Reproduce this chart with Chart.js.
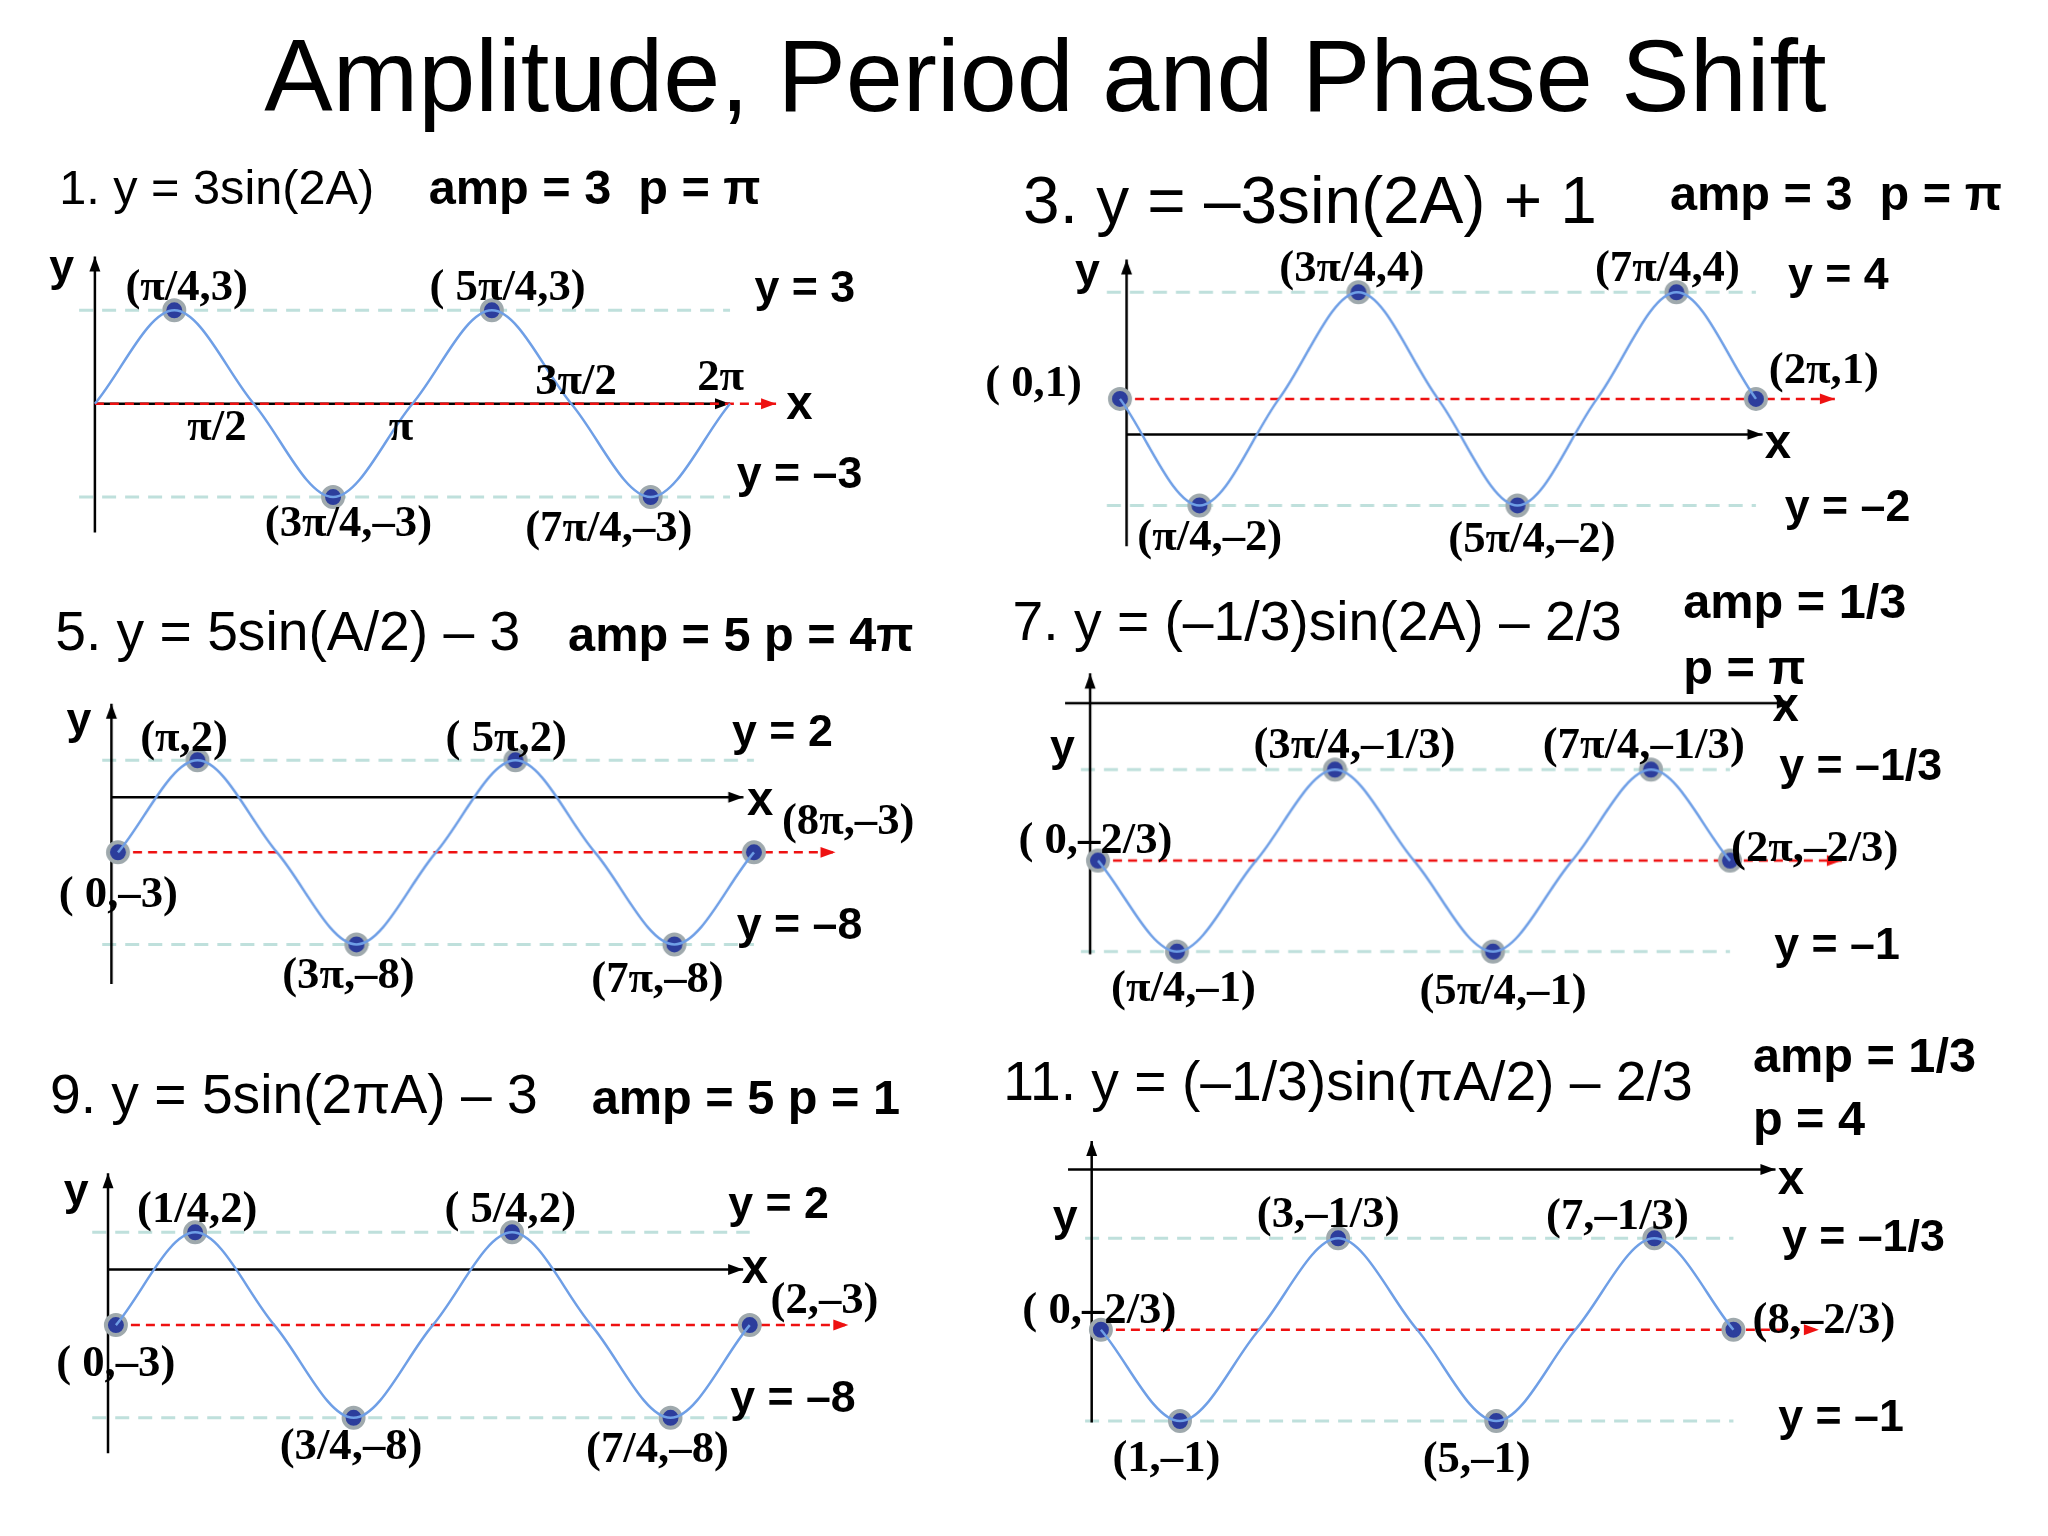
<!DOCTYPE html>
<html><head><meta charset="utf-8">
<script src="https://cdn.jsdelivr.net/npm/chart.js@4.4.1/dist/chart.umd.min.js"></script>
<style>
  html,body{margin:0;padding:0;background:#fff;}
  #page{position:relative;width:2048px;height:1536px;overflow:hidden;font-family:"Liberation Sans",Arial,sans-serif;}
  .box{position:absolute;}
  .t{position:absolute;white-space:nowrap;color:#000;transform:translate(-50%,-50%);}
  .l{position:absolute;white-space:nowrap;color:#000;transform:translate(0,-50%);}
  .pt{font-family:"Liberation Serif",serif;font-weight:bold;}
  .b{font-weight:bold;}
</style></head>
<body><div id="page"></div>
<script>
// displayed reference (~1560 wide) -> 2048 page
const S = 1.315;

// curve key points, one per quarter period
const quarterX = [0, 1, 2, 3, 4, 5, 6, 7, 8];
const p1Y = [0, 3, 0, -3, 0, 3, 0, -3, 0];
const p3Y = [1, -2, 1, 4, 1, -2, 1, 4, 1];
const p5Y = [-3, 2, -3, -8, -3, 2, -3, -8, -3];
const p7Y = [-2/3, -1, -2/3, -1/3, -2/3, -1, -2/3, -1/3, -2/3];
const p9Y = [-3, 2, -3, -8, -3, 2, -3, -8, -3];
const p11Y = [-2/3, -1, -2/3, -1/3, -2/3, -1, -2/3, -1/3, -2/3];
const p1Marks = [1, 3, 5, 7];
const fullMarks = [0, 1, 3, 5, 7, 8];

const panels = [
  {ys: p1Y, marks: p1Marks, max: 3, min: -3, mid: 0, xL: 72, xR: 555, yTop: 236, yBot: 378,
   yAx: [72, 195, 405], xAx: [72, 555, 0], redEnd: 590, tealL: 60},
  {ys: p3Y, marks: fullMarks, max: 4, min: -2, mid: 1, xL: 852, xR: 1335, yTop: 222, yBot: 384,
   yAx: [857, 197, 415], xAx: [857, 1340, 0], redEnd: 1395, tealL: 842},
  {ys: p5Y, marks: fullMarks, max: 2, min: -8, mid: -3, xL: 90, xR: 573, yTop: 578, yBot: 718,
   yAx: [85, 535, 748], xAx: [85, 565, 0], redEnd: 635, tealL: 78},
  {ys: p7Y, marks: fullMarks, max: -1/3, min: -1, mid: -2/3, xL: 835, xR: 1315, yTop: 585, yBot: 723,
   yAx: [829, 512, 725], xAx: [810, 1362, -0.09], redEnd: 1400, tealL: 822},
  {ys: p9Y, marks: fullMarks, max: 2, min: -8, mid: -3, xL: 88, xR: 570, yTop: 937, yBot: 1078,
   yAx: [82, 892, 1105], xAx: [82, 565, 0], redEnd: 645, tealL: 70},
  {ys: p11Y, marks: fullMarks, max: -1/3, min: -1, mid: -2/3, xL: 837, xR: 1318, yTop: 942, yBot: 1081,
   yAx: [830, 868, 1082], xAx: [812, 1350, -0.082], redEnd: 1383, tealL: 825}
];

// text: [x, y, text, class, size]  (centered unless class has 'l')
const texts = [
  [795, 58, 'Amplitude, Period and Phase Shift', 't', 78],
  [45, 142, '1. y = 3sin(2A)', 'l', 37], [326, 142, 'amp = 3&nbsp; p = π', 'l b', 37],
  [142, 217, '(π/4,3)', 't pt', 34], [386, 217, '( 5π/4,3)', 't pt', 34],
  [165, 323, 'π/2', 't pt', 34], [305, 323, 'π', 't pt', 34], [438, 288, '3π/2', 't pt', 34], [548, 285, '2π', 't pt', 34],
  [265, 396, '(3π/4,–3)', 't pt', 34], [463, 400, '(7π/4,–3)', 't pt', 34],
  [47, 202, 'y', 't b', 34], [608, 306, 'x', 't b', 36], [612, 218, 'y = 3', 't b', 34], [608, 360, 'y = –3', 't b', 34],

  [778, 152, '3. y = –3sin(2A) + 1', 'l', 50], [1270, 147, 'amp = 3&nbsp; p = π', 'l b', 37],
  [827, 205, 'y', 't b', 34], [1352, 335, 'x', 't b', 36],
  [1028, 202, '(3π/4,4)', 't pt', 34], [1268, 202, '(7π/4,4)', 't pt', 34], [1398, 208, 'y = 4', 't b', 34],
  [786, 290, '( 0,1)', 't pt', 34], [1387, 280, '(2π,1)', 't pt', 34],
  [920, 407, '(π/4,–2)', 't pt', 34], [1165, 408, '(5π/4,–2)', 't pt', 34], [1405, 385, 'y = –2', 't b', 34],

  [42, 480, '5. y = 5sin(A/2) – 3', 'l', 42], [432, 482, 'amp = 5 p = 4π', 'l b', 37],
  [60, 547, 'y', 't b', 34], [578, 607, 'x', 't b', 36],
  [140, 560, '(π,2)', 't pt', 34], [385, 560, '( 5π,2)', 't pt', 34], [595, 556, 'y = 2', 't b', 34],
  [645, 623, '(8π,–3)', 't pt', 34], [90, 678, '( 0,–3)', 't pt', 34],
  [265, 740, '(3π,–8)', 't pt', 34], [500, 743, '(7π,–8)', 't pt', 34], [608, 703, 'y = –8', 't b', 34],

  [770, 472, '7. y = (–1/3)sin(2A) – 2/3', 'l', 42], [1280, 457, 'amp = 1/3', 'l b', 37], [1280, 507, 'p = π', 'l b', 37],
  [808, 567, 'y', 't b', 34], [1358, 535, 'x', 't b', 36],
  [1030, 565, '(3π/4,–1/3)', 't pt', 34], [1250, 565, '(7π/4,–1/3)', 't pt', 34], [1415, 582, 'y = –1/3', 't b', 34],
  [833, 637, '( 0,–2/3)', 't pt', 34], [1380, 643, '(2π,–2/3)', 't pt', 34],
  [900, 750, '(π/4,–1)', 't pt', 34], [1143, 752, '(5π/4,–1)', 't pt', 34], [1397, 718, 'y = –1', 't b', 34],

  [38, 832, '9. y = 5sin(2πA) – 3', 'l', 42], [450, 834, 'amp = 5 p = 1', 'l b', 37],
  [58, 905, 'y', 't b', 34], [574, 963, 'x', 't b', 36],
  [150, 918, '(1/4,2)', 't pt', 34], [388, 918, '( 5/4,2)', 't pt', 34], [592, 915, 'y = 2', 't b', 34],
  [627, 987, '(2,–3)', 't pt', 34], [88, 1035, '( 0,–3)', 't pt', 34],
  [267, 1098, '(3/4,–8)', 't pt', 34], [500, 1100, '(7/4,–8)', 't pt', 34], [603, 1062, 'y = –8', 't b', 34],

  [763, 822, '11. y = (–1/3)sin(πA/2) – 2/3', 'l', 42], [1333, 802, 'amp = 1/3', 'l b', 37], [1333, 850, 'p = 4', 'l b', 37],
  [810, 925, 'y', 't b', 34], [1362, 895, 'x', 't b', 36],
  [1010, 922, '(3,–1/3)', 't pt', 34], [1230, 923, '(7,–1/3)', 't pt', 34], [1417, 940, 'y = –1/3', 't b', 34],
  [836, 995, '( 0,–2/3)', 't pt', 34], [1387, 1002, '(8,–2/3)', 't pt', 34],
  [887, 1107, '(1,–1)', 't pt', 34], [1123, 1108, '(5,–1)', 't pt', 34], [1400, 1077, 'y = –1', 't b', 34]
];

const page = document.getElementById('page');

function arrow(ctx, x1, y1, x2, y2, color, dash) {
  ctx.save();
  ctx.strokeStyle = color; ctx.fillStyle = color; ctx.lineWidth = 2.5;
  ctx.setLineDash(dash || []);
  ctx.beginPath(); ctx.moveTo(x1, y1); ctx.lineTo(x2, y2); ctx.stroke();
  ctx.setLineDash([]);
  const a = Math.atan2(y2 - y1, x2 - x1), h = 16;
  ctx.beginPath();
  ctx.moveTo(x2, y2);
  ctx.lineTo(x2 - h * Math.cos(a - 0.35), y2 - h * Math.sin(a - 0.35));
  ctx.lineTo(x2 - h * Math.cos(a + 0.35), y2 - h * Math.sin(a + 0.35));
  ctx.closePath(); ctx.fill();
  ctx.restore();
}

const decoPlugin = {
  id: 'deco',
  beforeDatasetsDraw(chart, args, opts) {
    const p = opts.panel, ctx = chart.ctx;
    const xs = chart.scales.x, ysc = chart.scales.y;
    const px = v => (v - p.boxL) * S;
    const py = v => (v - p.boxT) * S;
    // teal max/min guides
    ctx.save();
    ctx.strokeStyle = '#bfe0dc'; ctx.lineWidth = 3; ctx.setLineDash([14, 9]);
    [p.max, p.min].forEach(v => {
      ctx.beginPath();
      ctx.moveTo(px(p.tealL), ysc.getPixelForValue(v));
      ctx.lineTo(xs.getPixelForValue(8), ysc.getPixelForValue(v));
      ctx.stroke();
    });
    ctx.restore();
    // axes
    arrow(ctx, px(p.yAx[0]), py(p.yAx[2]), px(p.yAx[0]), py(p.yAx[1]), '#000');
    const ay = ysc.getPixelForValue(p.xAx[2]);
    arrow(ctx, px(p.xAx[0]), ay, px(p.xAx[1]), ay, '#000');
    // red midline
    const my = ysc.getPixelForValue(p.mid);
    arrow(ctx, xs.getPixelForValue(0), my, px(p.redEnd), my, '#ee1111', [9, 6]);
  }
};

panels.forEach(p => {
  p.boxL = p.xL - 60; p.boxR = p.xR + 110; p.boxT = p.yTop - 90; p.boxB = p.yBot + 60;
  const ppx = (p.xR - p.xL) / 8, ppy = (p.yBot - p.yTop) / (p.max - p.min);
  const div = document.createElement('div');
  div.className = 'box';
  div.style.left = p.boxL * S + 'px'; div.style.top = p.boxT * S + 'px';
  div.style.width = (p.boxR - p.boxL) * S + 'px'; div.style.height = (p.boxB - p.boxT) * S + 'px';
  const cv = document.createElement('canvas');
  div.appendChild(cv); page.appendChild(div);
  new Chart(cv, {
    type: 'scatter',
    data: {
      datasets: [
        {
          type: 'line',
          data: quarterX.map((x, i) => ({x, y: p.ys[i]})),
          borderColor: '#6f9fe6', borderWidth: 2.5, pointRadius: 0,
          cubicInterpolationMode: 'monotone', fill: false
        },
        {
          data: p.marks.map(i => ({x: quarterX[i], y: p.ys[i]})),
          pointRadius: 10, pointBackgroundColor: '#2c3d9c',
          pointBorderColor: '#9fa9ad', pointBorderWidth: 4
        }
      ]
    },
    options: {
      responsive: true, maintainAspectRatio: false, animation: false,
      layout: {padding: 0, autoPadding: false},
      scales: {
        x: {type: 'linear', display: false,
            min: (p.boxL - p.xL) / ppx, max: (p.boxR - p.xL) / ppx},
        y: {display: false,
            min: p.min - (p.boxB - p.yBot) / ppy, max: p.max + (p.yTop - p.boxT) / ppy}
      },
      plugins: {legend: {display: false}, tooltip: {enabled: false}, deco: {panel: p}}
    },
    plugins: [decoPlugin]
  });
});

texts.forEach(([x, y, s, cls, size]) => {
  const d = document.createElement('div');
  d.className = cls;
  d.style.left = x * S + 'px'; d.style.top = y * S + 'px';
  d.style.fontSize = size * S + 'px';
  d.innerHTML = s;
  page.appendChild(d);
});
</script></body></html>
